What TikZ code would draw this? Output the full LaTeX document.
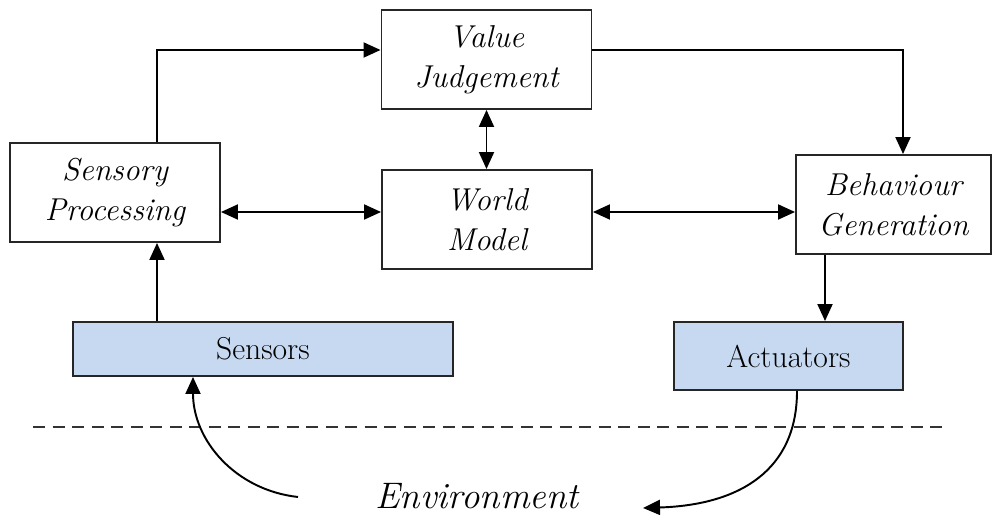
\documentclass[tikz,border=0pt]{standalone}
\usepackage{fontspec}
\usetikzlibrary{arrows.meta, calc}
\definecolor{devblue}{HTML}{C6D9F1}
\tikzstyle{block} = [rectangle, 
minimum width=4.2cm, 
minimum height=1.98cm, 
align=center, 
draw=black!85, 
line width=1.1pt, 
font=\fontsize{18}{22.7}\selectfont\itshape]
\tikzstyle{device} = [rectangle, 
minimum height=1.08cm, 
draw=black!85, 
fill=devblue, 
line width=1.1pt, 
font=\fontsize{18}{22.7}\selectfont]
\tikzstyle{arrow} = [line width=1.1pt,-{Triangle[length=0.34cm, width=0.3cm]}]
\tikzstyle{dblarrow} = [line width=1.1pt,{Triangle[length=0.34cm, width=0.3cm]}-{Triangle[length=0.34cm, width=0.3cm]}]
\begin{document}
\begin{tikzpicture}[x=0.2mm, y=-0.2mm]
    \useasboundingbox (0,0) rectangle (993,515);

    \node (judge) [block] at (486.5,59.5) {Value\\Judgement};
    \node (sensproc) [block] at (115,192.5) {Sensory\\Processing};
    \node (world) [block] at (487,219.5) {World\\Model};
    \node (behav) [block, minimum width=3.9cm] at (893.5,204.5) {Behaviour\\Generation};

    \node (sensors) [device, minimum width=7.6cm] at (263,349) {Sensors};
    \node (actuators) [device, minimum width=4.58cm, minimum height=1.36cm] at (788.5,356) {Actuators};

    \node (env) [anchor=base, inner sep=0pt, font=\fontsize{21}{25}\selectfont\itshape] at (477,508) {Environment};

    % helper coordinates for the connector lines
    \coordinate (topbus) at (157,50);
    \coordinate (midrow) at (487,212);
    \coordinate (outcol) at (825,300);
    \coordinate (envin) at (298,497);

    \draw [arrow] (sensproc.north -| topbus) |- (judge.west |- topbus);
    \draw [arrow] (judge.east |- topbus) -| ([xshift=0.19cm]behav.north);
    \draw [dblarrow] (judge.south) -- (world.north -| judge.south);
    \draw [dblarrow] (sensproc.east |- midrow) -- (world.west |- midrow);
    \draw [dblarrow] (world.east |- midrow) -- (behav.west |- midrow);
    \draw [arrow] (sensors.north -| topbus) -- (sensproc.south -| topbus);
    \draw [arrow] (behav.south -| outcol) -- (actuators.north -| outcol);

    \draw [dashed, line width=0.8pt, dash pattern=on 0.24cm off 0.15cm, black!80] (33,427) -- (945,427);

    \draw [arrow] (envin) .. controls (235,490) and (193,440) .. ([xshift=-1.4cm]sensors.south);
    \draw [arrow] ([xshift=0.17cm]actuators.south) .. controls (797,470) and (740,505) .. (643,508);
  \end{tikzpicture}
\end{document}
